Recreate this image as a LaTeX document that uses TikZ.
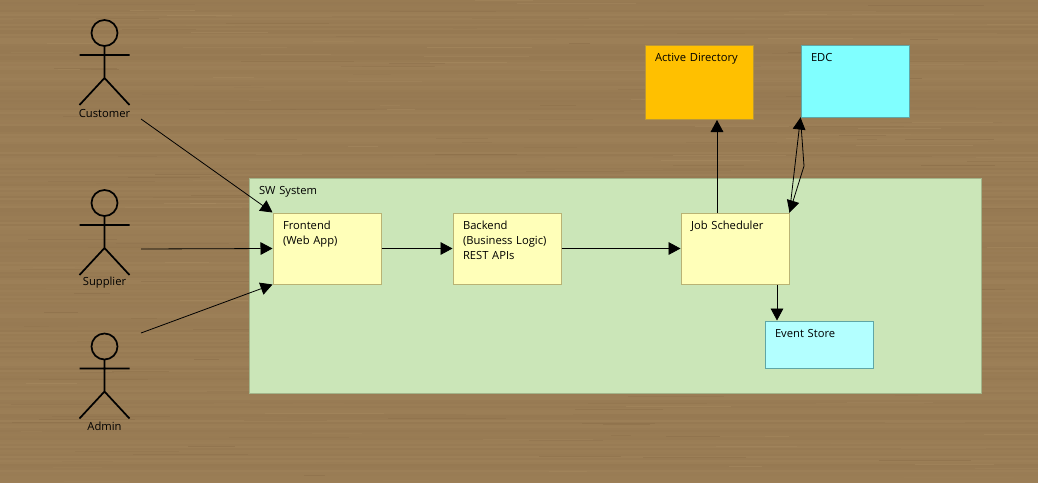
\documentclass[tikz,border=0pt]{standalone}
\usepackage{fontspec}
\setmainfont{Open Sans}
\usepackage{tikz}
\usetikzlibrary{arrows.meta}

\definecolor{woodbase}{HTML}{9A7D55}
\definecolor{wooddark}{HTML}{886B47}
\definecolor{woodlight}{HTML}{A98C62}
\definecolor{swgreen}{HTML}{CBE6B8}
\definecolor{swedge}{HTML}{A3B58A}
\definecolor{noteyellow}{HTML}{FFFFB9}
\definecolor{noteedge}{HTML}{B9B374}
\definecolor{noteorange}{HTML}{FFC000}
\definecolor{orangeedge}{HTML}{B8963A}
\definecolor{notecyan}{HTML}{80FFFF}
\definecolor{notepale}{HTML}{B3FFFF}
\definecolor{cyanedge}{HTML}{5FA6A6}

\tikzset{
  sketchbox/.style={draw=noteedge, fill=noteyellow, anchor=north west, line width=0.75pt,
    font=\fontsize{8.4}{11.25}\selectfont, align=left, inner xsep=7.5pt, inner ysep=3pt,
    text width=66pt, text height=9pt, text depth=38.25pt},
  yellowbox/.style={sketchbox},
  orangebox/.style={sketchbox, fill=noteorange, draw=orangeedge, text depth=40.5pt},
  cyanbox/.style={sketchbox, fill=notecyan, draw=cyanedge, text depth=39pt},
  paleshort/.style={sketchbox, fill=notepale, draw=cyanedge, text depth=20.25pt},
  actorname/.style={font=\fontsize{8.4}{10}\selectfont, inner sep=0pt},
  conn/.style={-{Triangle[length=9pt,width=9.5pt]}, line width=0.6pt, black},
  stickman/.pic={
    \draw[line width=1.3pt] (0,0) circle (13)
      (0,13) -- (0,45) (-25,22) -- (25,22)
      (-25,72) -- (0,45) -- (25,72);
  }
}

\begin{document}
\begin{tikzpicture}[x=0.75pt,y=-0.75pt]
\useasboundingbox (0,0) rectangle (1038,482);

% wood first
\fill[woodbase] (-2,-2) rectangle (1040,484);
\pgfmathsetseed{11}
\foreach \rowy in {0,2,...,482}{
  \pgfmathsetmacro{\mixa}{random(25,75)}
  \fill[woodlight!\mixa!wooddark, opacity=0.4] (-2,\rowy) rectangle (1040,\rowy+2);
}
\foreach \n in {1,...,320}{
  \pgfmathsetmacro{\startx}{random(0,1000)}
  \pgfmathsetmacro{\starty}{random(0,481)}
  \pgfmathsetmacro{\lenx}{random(20,120)}
  \pgfmathsetmacro{\mixb}{random(0,100)}
  \draw[woodlight!\mixb!wooddark, opacity=0.5, line width=0.5pt] (\startx,\starty) -- ++(\lenx,0);
}

% system area
\node[draw=swedge, fill=swgreen, anchor=north west, line width=0.75pt, inner xsep=7.5pt, inner ysep=3pt,
  font=\fontsize{8.4}{11.25}\selectfont, text width=534pt, text height=9pt, text depth=146.25pt]
  (system) at (248.5,177.5) {SW System};

% boxes
\node[yellowbox] (frontend) at (272.5,212.5) {Frontend\\(Web App)};
\node[yellowbox] (backend) at (452.5,212.5) {Backend\\(Business Logic)\\REST APIs};
\node[yellowbox] (scheduler) at (680.5,212.5) {Job Scheduler};
\node[paleshort] (eventstore) at (764.5,320.5) {Event Store};
\node[orangebox] (directory) at (644.5,45) {Active Directory};
\node[cyanbox] (edc) at (800.5,44.5) {EDC};

% actors
\pic at (104.5,33) {stickman};
\pic at (104.5,203) {stickman};
\pic at (104.5,346.5) {stickman};
\node[actorname] (customer) at (104.5,113.5) {Customer};
\node[actorname] (supplier) at (104.5,283) {Supplier};
\node[actorname] (admin) at (104.5,426) {Admin};
\coordinate (customerout) at (141,119);
\coordinate (supplierout) at (141,249);
\coordinate (adminout) at (141,333);
\coordinate (edcbend) at (804,166);

% connectors
\draw[conn] (customerout) -- (frontend.north west);
\draw[conn] (supplierout) -- (frontend.west);
\draw[conn] (adminout) -- (frontend.south west);
\draw[conn] (frontend) -- (backend);
\draw[conn] (backend) -- (scheduler);
\draw[conn] ([xshift=-13.5pt]scheduler.north) -- ([xshift=13.5pt]directory.south);
\draw[conn] ([xshift=31.5pt]scheduler.south) -- ([xshift=31.5pt]scheduler.south |- eventstore.north);
\draw[conn] (scheduler.north east) -- (edc.south west);
\draw[conn] (edc.south west) -- (edcbend) -- (scheduler.north east);
\end{tikzpicture}
\end{document}
